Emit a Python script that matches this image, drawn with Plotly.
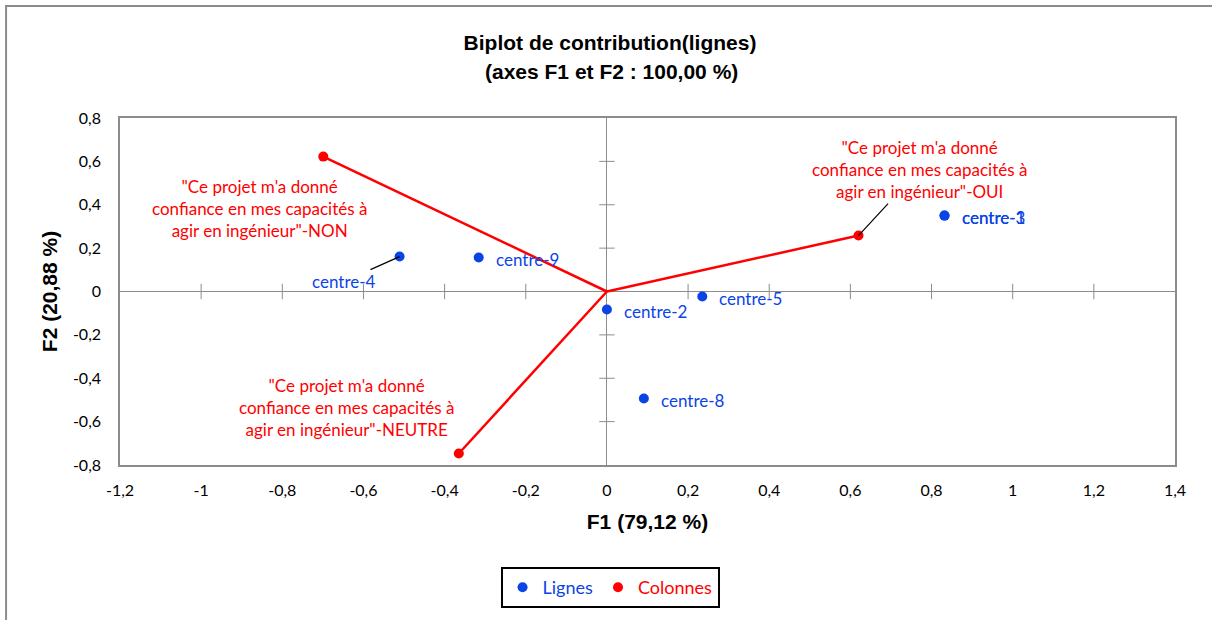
import plotly.graph_objects as go

# Lignes (rows) - F1 / F2 coordinates
row_names = ['centre-4', 'centre-9', 'centre-2', 'centre-5', 'centre-8', 'centre-1', 'centre-3']
row_f1 = [-0.511, -0.316, 0.000, 0.235, 0.091, 0.832, 0.832]
row_f2 = [0.161, 0.157, -0.083, -0.023, -0.493, 0.350, 0.350]

# Colonnes (columns)
col_names = ['"Ce projet m\'a donné<br>confiance en mes capacités à<br>agir en ingénieur"-NON',
             '"Ce projet m\'a donné<br>confiance en mes capacités à<br>agir en ingénieur"-NEUTRE',
             '"Ce projet m\'a donné<br>confiance en mes capacités à<br>agir en ingénieur"-OUI']
col_f1 = [-0.699, -0.365, 0.620]
col_f2 = [0.622, -0.747, 0.258]

x_ticks = [-1.2, -1, -0.8, -0.6, -0.4, -0.2, 0, 0.2, 0.4, 0.6, 0.8, 1, 1.2, 1.4]
x_labels = ['-1,2', '-1', '-0,8', '-0,6', '-0,4', '-0,2', '0', '0,2', '0,4', '0,6', '0,8', '1', '1,2', '1,4']
y_ticks = [-0.8, -0.6, -0.4, -0.2, 0, 0.2, 0.4, 0.6, 0.8]
y_labels = ['-0,8', '-0,6', '-0,4', '-0,2', '0', '0,2', '0,4', '0,6', '0,8']

BLUE = '#0a44e6'
RED = '#ff0000'
GREY = '#8c8c8c'
LBL = 'Lato'
TTL = 'Liberation Sans'

fig = go.Figure()

# cross tick marks on the zero axes
xt = [v for v in x_ticks if v not in (0, x_ticks[0], x_ticks[-1])]
yt = [v for v in y_ticks if v not in (0, y_ticks[0], y_ticks[-1])]
fig.add_trace(go.Scatter(x=xt, y=[0]*len(xt), mode='markers', showlegend=False,
                         hoverinfo='skip',
                         marker=dict(symbol='line-ns-open', size=11, color=GREY,
                                     line=dict(color=GREY, width=1))))
fig.add_trace(go.Scatter(x=[0]*len(yt), y=yt, mode='markers', showlegend=False,
                         hoverinfo='skip',
                         marker=dict(symbol='line-ew-open', size=11, color=GREY,
                                     line=dict(color=GREY, width=1))))

# red vectors from origin
lx, ly = [], []
for a, b in zip(col_f1, col_f2):
    lx += [0, a, None]
    ly += [0, b, None]
fig.add_trace(go.Scatter(x=lx, y=ly, mode='lines', showlegend=False,
                         line=dict(color=RED, width=2.5), hoverinfo='skip'))

fig.add_trace(go.Scatter(x=row_f1, y=row_f2, mode='markers',
                         name='<span style="color:%s">Lignes</span>' % BLUE,
                         marker=dict(color=BLUE, size=10), text=row_names))
fig.add_trace(go.Scatter(x=col_f1, y=col_f2, mode='markers',
                         name='<span style="color:%s">Colonnes</span>' % RED,
                         marker=dict(color=RED, size=10)))

# row labels
for n, a, b in zip(row_names, row_f1, row_f2):
    if n == 'centre-4':
        fig.add_annotation(x=a, y=b, text=n, showarrow=True, ax=-56, ay=25,
                           arrowhead=0, arrowwidth=1.2, arrowcolor='black',
                           font=dict(family=LBL, size=17, color=BLUE))
    else:
        fig.add_annotation(x=a, y=b, text=n, showarrow=False, xanchor='left',
                           xshift=15, yshift=-2,
                           font=dict(family=LBL, size=17, color=BLUE))

# column labels
offs = [(-64, -52, False), (-112, 46, False), (61, 66, True)]
for n, a, b, (dx, dy, arrow) in zip(col_names, col_f1, col_f2, offs):
    if arrow:
        fig.add_annotation(x=a, y=b, text=n, showarrow=True, ax=dx, ay=-dy,
                           arrowhead=0, arrowwidth=1.2, arrowcolor='black', align='center',
                           font=dict(family=LBL, size=17, color=RED))
    else:
        fig.add_annotation(x=a, y=b, text=n, showarrow=False, xshift=dx, yshift=dy,
                           align='center', font=dict(family=LBL, size=17, color=RED))

# second title line
fig.add_annotation(xref='paper', yref='paper', x=(611 - 120) / 1055, y=1 + (118 - 72) / 347,
                   text='<b>(axes F1 et F2 : 100,00 %)</b>', showarrow=False,
                   xanchor='center', yanchor='middle',
                   font=dict(family=TTL, size=21, color='black'))

# outer chart frame
fig.add_shape(type='rect', xref='paper', yref='paper', x0=-0.108, x1=1.2, y0=-0.6, y1=1.323,
              line=dict(color=GREY, width=2), layer='below')

fig.update_layout(
    width=1212, height=620,
    margin=dict(l=120, r=37, t=118, b=155),
    paper_bgcolor='white', plot_bgcolor='white',
    title=dict(text='<b>Biplot de contribution(lignes)</b>',
               x=610 / 1212, xref='container', y=1 - 43 / 620, yanchor='middle',
               font=dict(family=TTL, size=21, color='black')),
    xaxis=dict(range=[-1.2, 1.4], tickvals=x_ticks, ticktext=x_labels, ticks='', showgrid=False,
               zeroline=True, zerolinecolor=GREY, zerolinewidth=1,
               showline=True, mirror=True, linecolor=GREY, linewidth=1.5,
               ticklabelstandoff=10, tickfont=dict(family=LBL, size=16, color='black'),
               title=dict(text='<b>F1 (79,12 %)</b>', standoff=16,
                          font=dict(family=TTL, size=21, color='black'))),
    yaxis=dict(range=[-0.8, 0.8], tickvals=y_ticks, ticktext=y_labels, ticks='', showgrid=False,
               zeroline=True, zerolinecolor=GREY, zerolinewidth=1,
               showline=True, mirror=True, linecolor=GREY, linewidth=1.5,
               ticklabelstandoff=14, tickfont=dict(family=LBL, size=16, color='black'),
               title=dict(text='<b>F2 (20,88 %)</b>', standoff=10,
                          font=dict(family=TTL, size=21, color='black'))),
    legend=dict(orientation='h', x=0.4645, xanchor='center', y=-0.294, yanchor='top',
                bgcolor='white', bordercolor='black', borderwidth=2,
                font=dict(family=LBL, size=18), itemwidth=30),
)

fig.write_html('out.html', config={'displayModeBar': False},
               post_script="document.body.style.margin='0';")
